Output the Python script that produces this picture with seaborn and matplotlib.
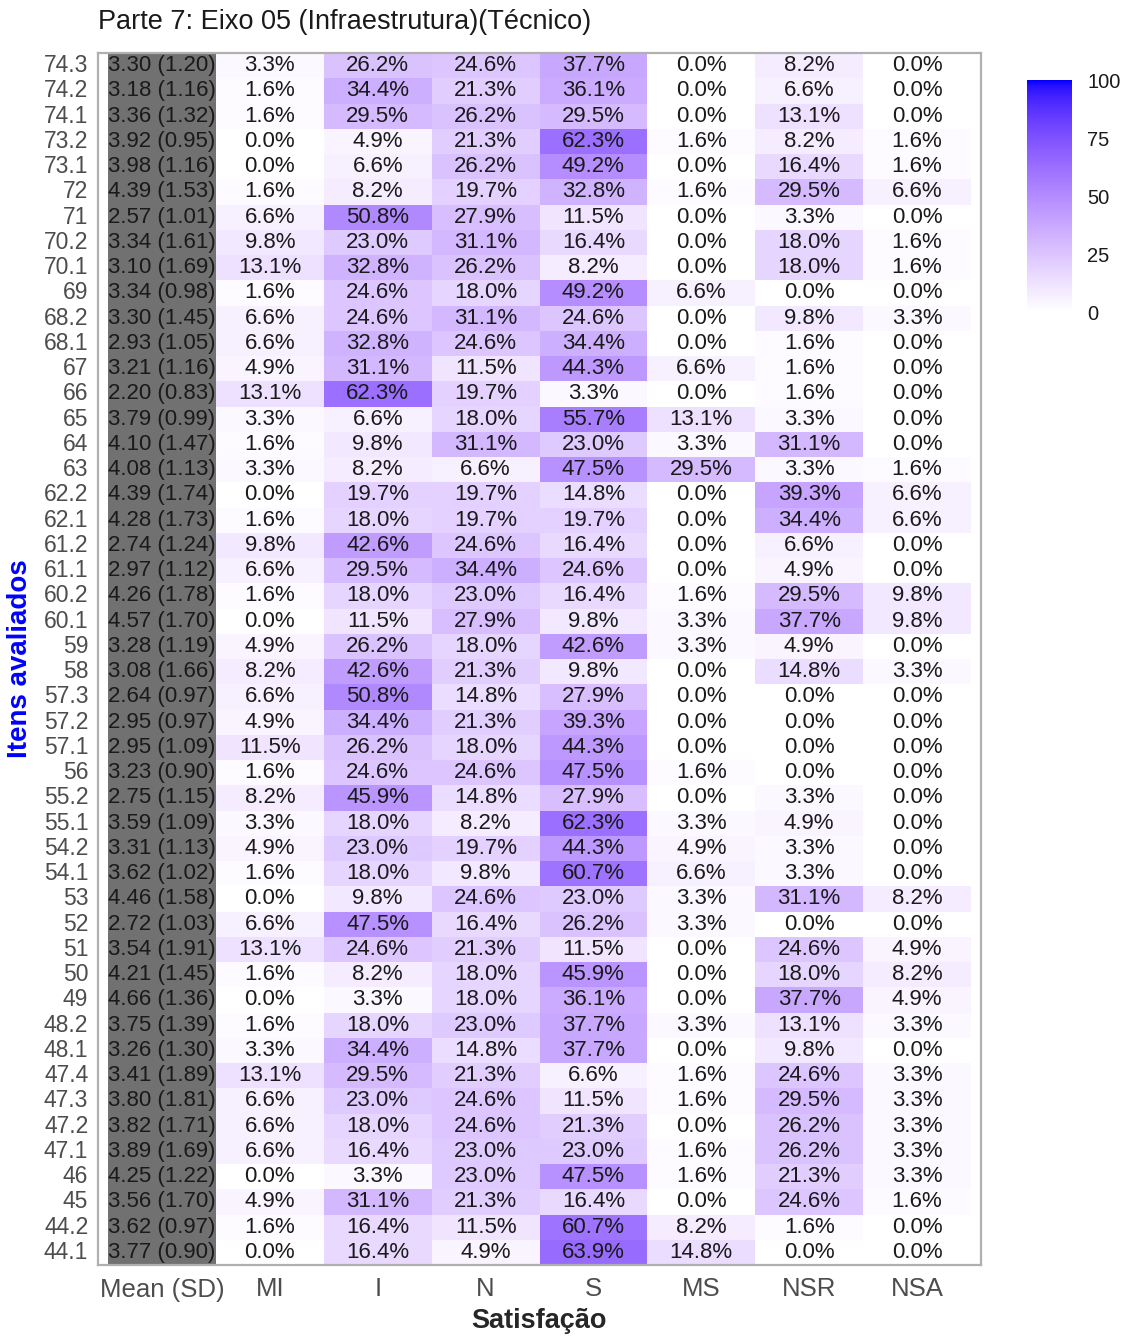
"""Heatmap of satisfaction shares per evaluated item, Parte 7 / Eixo 05."""

import matplotlib

matplotlib.use("Agg")

import matplotlib.pyplot as plt
import numpy as np
import pandas as pd
import seaborn as sns
from matplotlib.colors import ListedColormap

ITEMS = [
    "74.3", "74.2", "74.1", "73.2", "73.1", "72", "71", "70.2", "70.1", "69",
    "68.2", "68.1", "67", "66", "65", "64", "63", "62.2", "62.1", "61.2",
    "61.1", "60.2", "60.1", "59", "58", "57.3", "57.2", "57.1", "56", "55.2",
    "55.1", "54.2", "54.1", "53", "52", "51", "50", "49", "48.2", "48.1",
    "47.4", "47.3", "47.2", "47.1", "46", "45", "44.2", "44.1",
]
MEANS = [
    3.30, 3.18, 3.36, 3.92, 3.98, 4.39, 2.57, 3.34, 3.10, 3.34,
    3.30, 2.93, 3.21, 2.20, 3.79, 4.10, 4.08, 4.39, 4.28, 2.74,
    2.97, 4.26, 4.57, 3.28, 3.08, 2.64, 2.95, 2.95, 3.23, 2.75,
    3.59, 3.31, 3.62, 4.46, 2.72, 3.54, 4.21, 4.66, 3.75, 3.26,
    3.41, 3.80, 3.82, 3.89, 4.25, 3.56, 3.62, 3.77,
]
SDS = [
    1.20, 1.16, 1.32, 0.95, 1.16, 1.53, 1.01, 1.61, 1.69, 0.98,
    1.45, 1.05, 1.16, 0.83, 0.99, 1.47, 1.13, 1.74, 1.73, 1.24,
    1.12, 1.78, 1.70, 1.19, 1.66, 0.97, 0.97, 1.09, 0.90, 1.15,
    1.09, 1.13, 1.02, 1.58, 1.03, 1.91, 1.45, 1.36, 1.39, 1.30,
    1.89, 1.81, 1.71, 1.69, 1.22, 1.70, 0.97, 0.90,
]
MI = [
    3.3, 1.6, 1.6, 0.0, 0.0, 1.6, 6.6, 9.8, 13.1, 1.6,
    6.6, 6.6, 4.9, 13.1, 3.3, 1.6, 3.3, 0.0, 1.6, 9.8,
    6.6, 1.6, 0.0, 4.9, 8.2, 6.6, 4.9, 11.5, 1.6, 8.2,
    3.3, 4.9, 1.6, 0.0, 6.6, 13.1, 1.6, 0.0, 1.6, 3.3,
    13.1, 6.6, 6.6, 6.6, 0.0, 4.9, 1.6, 0.0,
]
I = [
    26.2, 34.4, 29.5, 4.9, 6.6, 8.2, 50.8, 23.0, 32.8, 24.6,
    24.6, 32.8, 31.1, 62.3, 6.6, 9.8, 8.2, 19.7, 18.0, 42.6,
    29.5, 18.0, 11.5, 26.2, 42.6, 50.8, 34.4, 26.2, 24.6, 45.9,
    18.0, 23.0, 18.0, 9.8, 47.5, 24.6, 8.2, 3.3, 18.0, 34.4,
    29.5, 23.0, 18.0, 16.4, 3.3, 31.1, 16.4, 16.4,
]
N = [
    24.6, 21.3, 26.2, 21.3, 26.2, 19.7, 27.9, 31.1, 26.2, 18.0,
    31.1, 24.6, 11.5, 19.7, 18.0, 31.1, 6.6, 19.7, 19.7, 24.6,
    34.4, 23.0, 27.9, 18.0, 21.3, 14.8, 21.3, 18.0, 24.6, 14.8,
    8.2, 19.7, 9.8, 24.6, 16.4, 21.3, 18.0, 18.0, 23.0, 14.8,
    21.3, 24.6, 24.6, 23.0, 23.0, 21.3, 11.5, 4.9,
]
S = [
    37.7, 36.1, 29.5, 62.3, 49.2, 32.8, 11.5, 16.4, 8.2, 49.2,
    24.6, 34.4, 44.3, 3.3, 55.7, 23.0, 47.5, 14.8, 19.7, 16.4,
    24.6, 16.4, 9.8, 42.6, 9.8, 27.9, 39.3, 44.3, 47.5, 27.9,
    62.3, 44.3, 60.7, 23.0, 26.2, 11.5, 45.9, 36.1, 37.7, 37.7,
    6.6, 11.5, 21.3, 23.0, 47.5, 16.4, 60.7, 63.9,
]
MS = [
    0.0, 0.0, 0.0, 1.6, 0.0, 1.6, 0.0, 0.0, 0.0, 6.6,
    0.0, 0.0, 6.6, 0.0, 13.1, 3.3, 29.5, 0.0, 0.0, 0.0,
    0.0, 1.6, 3.3, 3.3, 0.0, 0.0, 0.0, 0.0, 1.6, 0.0,
    3.3, 4.9, 6.6, 3.3, 3.3, 0.0, 0.0, 0.0, 3.3, 0.0,
    1.6, 1.6, 0.0, 1.6, 1.6, 0.0, 8.2, 14.8,
]
NSR = [
    8.2, 6.6, 13.1, 8.2, 16.4, 29.5, 3.3, 18.0, 18.0, 0.0,
    9.8, 1.6, 1.6, 1.6, 3.3, 31.1, 3.3, 39.3, 34.4, 6.6,
    4.9, 29.5, 37.7, 4.9, 14.8, 0.0, 0.0, 0.0, 0.0, 3.3,
    4.9, 3.3, 3.3, 31.1, 0.0, 24.6, 18.0, 37.7, 13.1, 9.8,
    24.6, 29.5, 26.2, 26.2, 21.3, 24.6, 1.6, 0.0,
]
NSA = [
    0.0, 0.0, 0.0, 1.6, 1.6, 6.6, 0.0, 1.6, 1.6, 0.0,
    3.3, 0.0, 0.0, 0.0, 0.0, 0.0, 1.6, 6.6, 6.6, 0.0,
    0.0, 9.8, 9.8, 0.0, 3.3, 0.0, 0.0, 0.0, 0.0, 0.0,
    0.0, 0.0, 0.0, 8.2, 0.0, 4.9, 8.2, 4.9, 3.3, 0.0,
    3.3, 3.3, 3.3, 3.3, 3.3, 1.6, 0.0, 0.0,
]
COLUMNS = ["Mean (SD)", "MI", "I", "N", "S", "MS", "NSR", "NSA"]
CBAR_TICKS = [0, 25, 50, 75, 100]

TITLE = "Parte 7: Eixo 05 (Infraestrutura)(Técnico)"
X_LABEL = "Satisfação"
Y_LABEL = "Itens avaliados"

W, H = 1128, 1336
MEAN_FILL = "#717171"
BORDER = "#b0b0b0"
TICK_GREY = "#4d4d4d"

_M = np.array(
    [
        [0.4124564, 0.3575761, 0.1804375],
        [0.2126729, 0.7151522, 0.0721750],
        [0.0193339, 0.1191920, 0.9503041],
    ]
)
_WHITE = np.array([0.95047, 1.0, 1.08883])
_D = 6 / 29


def _to_lab(rgb):
    rgb = np.asarray(rgb, float)
    lin = np.where(rgb <= 0.04045, rgb / 12.92, ((rgb + 0.055) / 1.055) ** 2.4)
    t = (_M @ lin) / _WHITE
    f = np.where(t > _D**3, np.cbrt(t), t / (3 * _D**2) + 4 / 29)
    return np.array([116 * f[1] - 16, 500 * (f[0] - f[1]), 200 * (f[1] - f[2])])


def _from_lab(lab):
    fy = (lab[0] + 16) / 116
    f = np.array([fy + lab[1] / 500, fy, fy - lab[2] / 200])
    t = np.where(f > _D, f**3, 3 * _D**2 * (f - 4 / 29))
    lin = np.clip(np.linalg.inv(_M) @ (t * _WHITE), 0, 1)
    rgb = np.where(lin <= 0.0031308, 12.92 * lin, 1.055 * lin ** (1 / 2.4) - 0.055)
    return np.clip(rgb, 0, 1)


def lab_gradient(low, high, n=256):
    """White-to-blue ramp interpolated in CIELAB, like ggplot's gradient."""
    lo, hi = _to_lab(low), _to_lab(high)
    return ListedColormap([_from_lab(lo + (hi - lo) * k) for k in np.linspace(0, 1, n)])


sns.set_theme(style="white")
plt.rcParams["font.family"] = ["Liberation Sans", "DejaVu Sans"]

pct = pd.DataFrame(
    {"Mean (SD)": np.nan, "MI": MI, "I": I, "N": N, "S": S, "MS": MS, "NSR": NSR, "NSA": NSA},
    index=ITEMS,
)[COLUMNS]
mean_labels = [f"{m:.2f} ({s:.2f})" for m, s in zip(MEANS, SDS)]
pct_labels = pct.apply(lambda col: col.map(lambda v: f"{v:.1f}%"))
pct_labels["Mean (SD)"] = mean_labels

mean_only = pd.DataFrame(np.nan, index=ITEMS, columns=COLUMNS)
mean_only["Mean (SD)"] = 1.0

fig = plt.figure(figsize=(W / 100, H / 100), dpi=100)
ax = fig.add_axes([98 / W, 1 - 1265 / H, (981 - 98) / W, (1265 - 53) / H])
cax = fig.add_axes([1027 / W, 1 - 312 / H, 45 / W, (312 - 80) / H])

annot_kws = {"fontsize": 16, "color": "#1a1a1a"}
sns.heatmap(
    pct,
    ax=ax,
    cmap=lab_gradient((1, 1, 1), (0, 0, 1)),
    vmin=0,
    vmax=100,
    annot=pct_labels.to_numpy(),
    fmt="",
    annot_kws=annot_kws,
    cbar_ax=cax,
    cbar_kws={"ticks": CBAR_TICKS},
)
sns.heatmap(
    mean_only,
    ax=ax,
    cmap=ListedColormap([MEAN_FILL]),
    annot=pct_labels.to_numpy(),
    fmt="",
    annot_kws=annot_kws,
    cbar=False,
)

ax.set_xlim(-0.093, len(COLUMNS) + 0.093)
ax.set_ylim(len(ITEMS), 0)
ax.set_xticks(np.arange(len(COLUMNS)) + 0.5, COLUMNS, rotation=0)
ax.set_yticks(np.arange(len(ITEMS)) + 0.5, ITEMS, rotation=0)
ax.tick_params(axis="x", length=0, pad=9, labelsize=18.5, labelcolor=TICK_GREY)
ax.tick_params(axis="y", length=0, pad=7, labelsize=16.5, labelcolor=TICK_GREY)
ax.set_xlabel("")
ax.set_ylabel("")
for spine in ax.spines.values():
    spine.set_visible(True)
    spine.set_color(BORDER)
    spine.set_linewidth(1.6)

cbar = ax.collections[0].colorbar
cbar.outline.set_visible(False)
cax.tick_params(
    axis="y",
    direction="in",
    length=9,
    width=1,
    color="white",
    left=True,
    right=True,
    labelleft=False,
    labelright=True,
    pad=11,
    labelsize=14.5,
    labelcolor="#1a1a1a",
)

fig.text(98 / W, 1 - 22 / H, TITLE, fontsize=19.5, ha="left", va="center", color="#1a1a1a")
fig.text(539 / W, 1 - 1321 / H, X_LABEL, fontsize=19.5, fontweight="bold", ha="center", va="center")
fig.text(
    20 / W, 1 - 659 / H, Y_LABEL, fontsize=20, fontweight="bold",
    color="#0000ff", rotation=90, ha="center", va="center",
)

fig.savefig("out.png", dpi=100)
plt.close(fig)
